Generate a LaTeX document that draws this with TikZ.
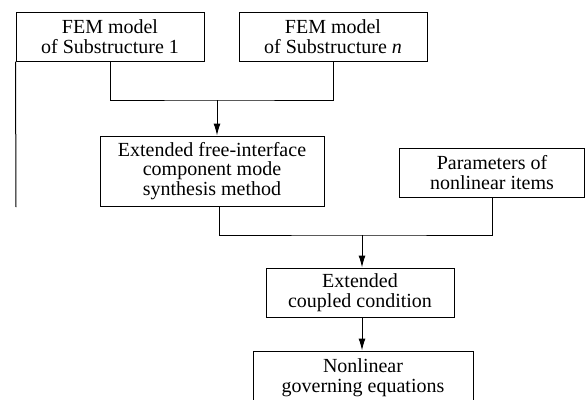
\documentclass[tikz,border=0pt]{standalone}
\usepackage{fontspec}
\setmainfont{Liberation Serif}
\usepackage{tikz}
\usetikzlibrary{arrows.meta}
\usetikzlibrary{positioning}
\tikzset{>={Latex[length=12pt,width=7pt]}}
\tikzstyle{blk} = [draw, line width=1pt, align=center, inner sep=0, font=\fontsize{20}{19.5}\selectfont]
\tikzstyle{lnk} = [line width=1pt]

\begin{document}
\begin{tikzpicture}[x=1pt, y=-1pt]
\clip (0,0) rectangle (586,399);
\useasboundingbox (0,0) rectangle (586,399);
\node [blk, minimum width=188, minimum height=49] (FA) at (110, 36.5) {FEM model\\of Substructure 1};
\node [blk, minimum width=188, minimum height=49] (FN) at (333, 36.5) {FEM model\\of Substructure \textit{n}};
\node [blk, minimum width=224, minimum height=70] (CMS) at (212, 171) {Extended free-interface\\component mode\\synthesis method};
\node [blk, minimum width=185, minimum height=49] (NLP) at (492, 172.5) {Parameters of\\nonlinear items};
\node [blk, minimum width=188, minimum height=49] (CPL) at (360, 292.5) {Extended\\coupled condition};
\node [blk, minimum width=220, minimum height=53] (GOV) at (363, 377.5) {Nonlinear\\governing equations};
\coordinate (J1) at (217, 100);
\coordinate (J2) at (362, 235);
\coordinate (LE) at (16, 207);
\draw [lnk] (FA.south west) -- (LE);
\draw [lnk] (FA.south) |- (J1) -| (FN.south);
\draw [lnk, ->] (J1) -- (J1 |- CMS.north);
\draw [lnk] ([xshift=7pt]CMS.south) |- (J2) -| (NLP.south);
\draw [lnk, ->] (J2) -- (J2 |- CPL.north);
\draw [lnk, ->] (J2 |- CPL.south) -- (J2 |- GOV.north);
\end{tikzpicture}
\end{document}
